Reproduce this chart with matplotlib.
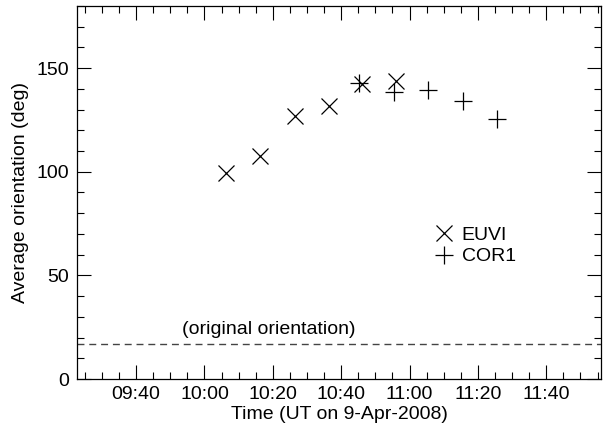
import matplotlib
matplotlib.use("Agg")
import matplotlib.pyplot as plt
import matplotlib.dates as mdates
from datetime import datetime, timedelta

plt.rcParams['font.family'] = ['Liberation Sans', 'DejaVu Sans']

day = datetime(2008, 4, 9)
def t(hhmm):
    h, m = hhmm.split(':')
    return day + timedelta(hours=int(h), minutes=float(m))

euvi_times = ['10:06.2', '10:16.1', '10:26.6', '10:36.4', '10:46.2', '10:55.9']
euvi_vals = [99.5, 107.4, 126.9, 131.5, 142.3, 143.9]
cor1_times = ['10:45.1', '10:55.4', '11:05.3', '11:15.5', '11:25.5']
cor1_vals = [142.8, 138.7, 139.4, 134.2, 125.7]
orig_orientation = 17.0
xrange_ = ['09:22.7', '11:56.0']
yrange_ = [0, 180]

fig = plt.figure(figsize=(6.04, 4.33), dpi=100)
ax = fig.add_axes([0.1275, 0.1247, 0.8675, 0.8615])

ax.plot([t(s) for s in euvi_times], euvi_vals, linestyle='none', marker='x',
        color='black', markersize=12, markeredgewidth=0.9, label='EUVI')
ax.plot([t(s) for s in cor1_times], cor1_vals, linestyle='none', marker='+',
        color='black', markersize=13, markeredgewidth=0.9, label='COR1')

ax.axhline(orig_orientation, color='#444444', linestyle=(0, (5, 3.5)), linewidth=1.0)
ax.text(t('09:53.3'), 24.0, '(original orientation)', fontsize=14,
        ha='left', va='center')

ax.set_xlim(t(xrange_[0]), t(xrange_[1]))
ax.set_ylim(*yrange_)

ax.xaxis.set_major_locator(mdates.MinuteLocator(byminute=[0, 20, 40]))
ax.xaxis.set_minor_locator(mdates.MinuteLocator(byminute=range(0, 60, 5)))
ax.xaxis.set_major_formatter(mdates.DateFormatter('%H:%M'))
ax.set_yticks([0, 50, 100, 150])
ax.set_yticks(range(0, 181, 10), minor=True)

ax.tick_params(which='both', direction='in', top=True, right=True, labelsize=14,
               width=0.8, color='black')
ax.tick_params(which='major', length=10, pad=6)
ax.tick_params(axis='x', which='major', pad=5)
ax.tick_params(which='minor', length=5)
for sp in ax.spines.values():
    sp.set_linewidth(0.9)

ax.set_xlabel('Time (UT on 9-Apr-2008)', fontsize=14, labelpad=2)
ax.set_ylabel('Average orientation (deg)', fontsize=14, labelpad=5)

ax.legend(loc='center left', bbox_to_anchor=(0.66, 0.357), frameon=False, fontsize=14,
          handletextpad=0.3, labelspacing=0.2, borderpad=0, handlelength=1.2)

fig.savefig('out.png', dpi=100)
